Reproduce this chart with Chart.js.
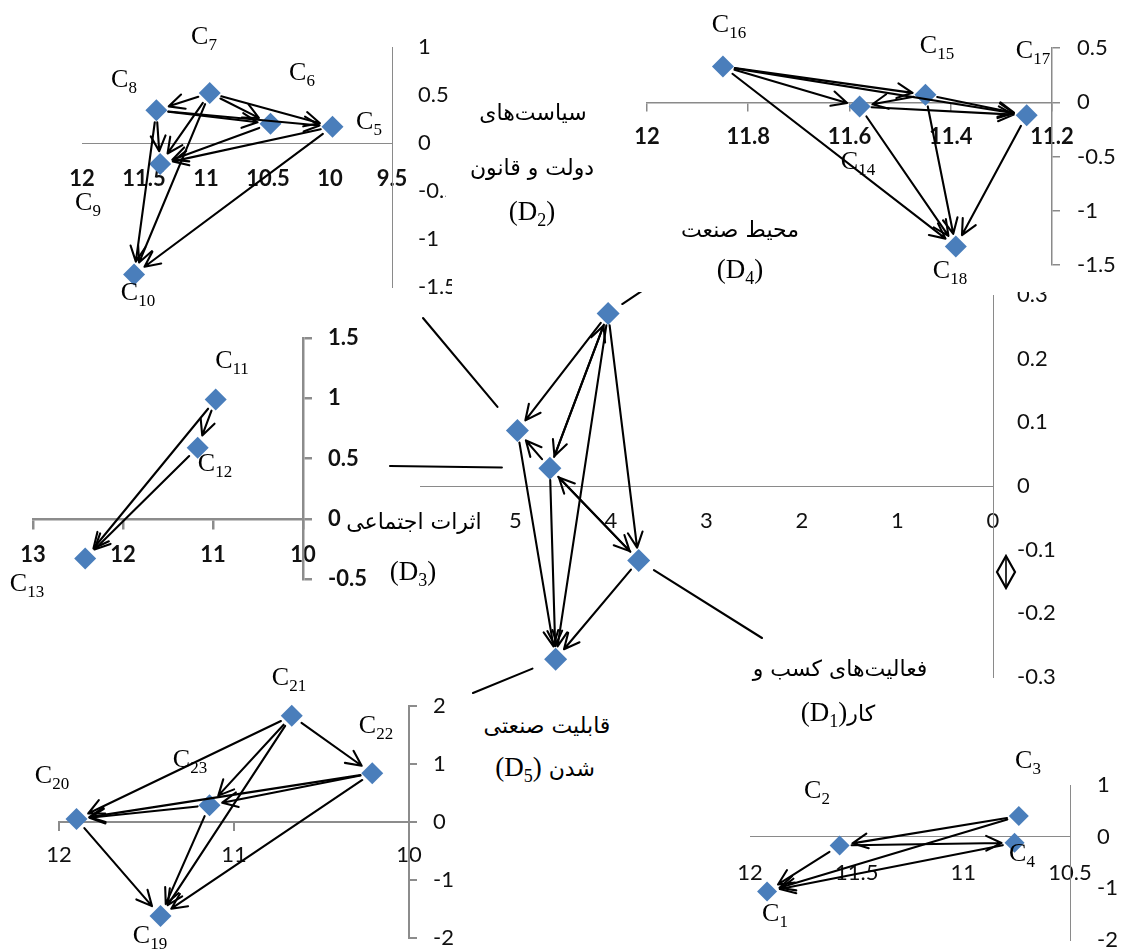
<!DOCTYPE html>
<html><head><meta charset="utf-8">
<script src="https://cdn.jsdelivr.net/npm/chart.js@4.4.1/dist/chart.umd.min.js"></script>
<style>
html,body{margin:0;padding:0;background:#fff;}
body{width:1125px;height:950px;position:relative;overflow:hidden;}
.cv{position:absolute;}
.lbl{position:absolute;transform:translate(-50%,-50%);white-space:nowrap;font-family:"Liberation Serif",serif;font-size:26px;color:#000;line-height:1;z-index:20;}
.lbl .s{font-size:17px;position:relative;top:6px;}
.fa{position:absolute;transform:translate(-50%,-50%);white-space:nowrap;font-family:"DejaVu Sans",sans-serif;font-size:22px;color:#000;line-height:1;z-index:20;}
.fa .lat{font-family:"Liberation Serif",serif;font-size:27px;unicode-bidi:isolate;direction:ltr;}
.fa .s{font-size:18px;position:relative;top:6px;}
.box{position:absolute;background:#fff;z-index:15;}
</style></head><body>
<script>
// ---------------- DATA ----------------
// Central chart: dimensions D1..D5
const cNames = ['D1','D2','D3','D4','D5'];
const cX = [3.71, 4.98, 4.64, 4.03, 4.58];
const cY = [-0.117, 0.087, 0.028, 0.271, -0.272];
const cEdges = [['D4','D2'],['D4','D3'],['D3','D4'],['D4','D5'],['D4','D1'],['D2','D5'],['D3','D2'],['D3','D5'],['D3','D1'],['D1','D3'],['D1','D5']];
const cXTicks = [5, 4, 3, 2, 1, 0];
const cYTicks = [0.3, 0.2, 0.1, 0, -0.1, -0.2, -0.3];

// D2 (top-left): C5..C10
const d2Names = ['C5','C6','C7','C8','C9','C10'];
const d2X = [9.98, 10.48, 10.97, 11.40, 11.37, 11.58];
const d2Y = [0.17, 0.20, 0.52, 0.34, -0.22, -1.37];
const d2Edges = [['C7','C8'],['C7','C5'],['C7','C6'],['C8','C6'],['C8','C5'],['C8','C9'],['C8','C10'],['C7','C9'],['C7','C10'],['C6','C9'],['C5','C9'],['C5','C10']];
const d2XTicks = [12, 11.5, 11, 10.5, 10, 9.5];
const d2YTicks = [1, 0.5, 0, -0.5, -1, -1.5];

// D4 (top-right): C14..C18
const d4Names = ['C14','C15','C16','C17','C18'];
const d4X = [11.58, 11.45, 11.85, 11.25, 11.39];
const d4Y = [-0.04, 0.07, 0.33, -0.12, -1.33];
const d4Edges = [['C16','C15'],['C16','C14'],['C16','C17'],['C16','C18'],['C15','C14'],['C15','C17'],['C15','C18'],['C14','C18'],['C14','C17'],['C17','C18']];
const d4XTicks = [12, 11.8, 11.6, 11.4, 11.2];
const d4YTicks = [0.5, 0, -0.5, -1, -1.5];

// D3 (middle-left): C11..C13
const d3Names = ['C11','C12','C13'];
const d3X = [10.97, 11.17, 12.42];
const d3Y = [0.99, 0.59, -0.33];
const d3Edges = [['C11','C12'],['C11','C13'],['C12','C13']];
const d3XTicks = [13, 12, 11, 10];
const d3YTicks = [1.5, 1, 0.5, 0, -0.5];

// D5 (bottom-left): C19..C23
const d5Names = ['C19','C20','C21','C22','C23'];
const d5X = [11.42, 11.90, 10.67, 10.21, 11.14];
const d5Y = [-1.62, 0.05, 1.83, 0.84, 0.29];
const d5Edges = [['C21','C20'],['C21','C22'],['C21','C23'],['C21','C19'],['C22','C23'],['C22','C20'],['C22','C19'],['C23','C20'],['C23','C19'],['C20','C19']];
const d5XTicks = [12, 11, 10];
const d5YTicks = [2, 1, 0, -1, -2];

// D1 (bottom-right): C1..C4
const d1Names = ['C1','C2','C3','C4'];
const d1X = [11.92, 11.58, 10.74, 10.76];
const d1Y = [-1.06, -0.17, 0.40, -0.12];
const d1Edges = [['C3','C2'],['C3','C1'],['C2','C4'],['C2','C1'],['C4','C1']];
const d1XTicks = [12, 11.5, 11, 10.5];
const d1YTicks = [1, 0, -1, -2];

// ---------------- RENDER ----------------
function makeChart(s) {
  const cv = document.createElement('canvas');
  cv.width = s.W; cv.height = s.H;
  cv.className = 'cv';
  Object.assign(cv.style, {left: s.L + 'px', top: s.T + 'px', width: s.W + 'px', height: s.H + 'px', zIndex: s.z || 1});
  if (s.bg) cv.style.background = s.bg;
  document.body.appendChild(cv);

  const plug = {
    id: 'arrows_' + s.id,
    afterDatasetsDraw(chart) {
      const ctx = chart.ctx, xs = chart.scales.x, ys = chart.scales.y;
      const pos = {};
      s.names.forEach((n, i) => pos[n] = [xs.getPixelForValue(s.xs[i]), ys.getPixelForValue(s.ys[i])]);
      ctx.save();
      ctx.strokeStyle = '#000'; ctx.lineWidth = 2.1; ctx.lineCap = 'round'; ctx.lineJoin = 'round';
      const g0 = 12, g1 = 13, hl = 17, ha = 0.45;
      s.edges.forEach(([a, b]) => {
        const [x1, y1] = pos[a], [x2, y2] = pos[b];
        const dx = x2 - x1, dy = y2 - y1, L = Math.hypot(dx, dy), ux = dx / L, uy = dy / L;
        const sx = x1 + ux * g0, sy = y1 + uy * g0, ex = x2 - ux * g1, ey = y2 - uy * g1;
        ctx.beginPath(); ctx.moveTo(sx, sy); ctx.lineTo(ex, ey);
        const ang = Math.atan2(uy, ux);
        ctx.moveTo(ex - hl * Math.cos(ang - ha), ey - hl * Math.sin(ang - ha));
        ctx.lineTo(ex, ey);
        ctx.lineTo(ex - hl * Math.cos(ang + ha), ey - hl * Math.sin(ang + ha));
        ctx.stroke();
      });
      (s.leaders || []).forEach(([n, ax, ay, gap]) => {
        const [px, py] = pos[n];
        const tx = ax - s.L, ty = ay - s.T;
        const dx = tx - px, dy = ty - py, L = Math.hypot(dx, dy);
        ctx.beginPath();
        ctx.moveTo(px + dx / L * gap, py + dy / L * gap);
        ctx.lineTo(tx, ty);
        ctx.stroke();
      });
      ctx.restore();
    }
  };

  const axisCommon = (ticksArr, tl, pad, weight) => ({
    type: 'linear',
    afterBuildTicks: sc => { sc.ticks = ticksArr.map(v => ({value: v})); },
    grid: {display: true, drawOnChartArea: false, drawTicks: tl > 0, tickLength: tl, color: s.axisColor, lineWidth: s.axisW},
    border: {display: true, color: s.axisColor, width: s.axisW},
    ticks: {padding: pad, color: '#111', autoSkip: false, maxRotation: 0, minRotation: 0,
      font: {family: 'Lato', size: 22, weight: weight},
      callback: v => String(v)}
  });

  const xAxis = Object.assign(axisCommon(s.xTicks, s.xtl, s.xpad, s.xw), {
    reverse: true, min: s.xmin, max: s.xmax, position: {y: 0},
    afterFit: sc => { sc.paddingLeft = 0; sc.paddingRight = 0; }
  });
  const yAxis = Object.assign(axisCommon(s.yTicks, s.ytl, s.ypad, s.yw_), {
    min: s.ymin, max: s.ymax, position: 'right',
    afterFit: sc => { sc.width = s.yw; sc.paddingTop = 0; sc.paddingBottom = 0; }
  });

  new Chart(cv, {
    type: 'scatter',
    data: {datasets: [{
      data: s.xs.map((x, i) => ({x: x, y: s.ys[i]})),
      pointStyle: 'rectRot', pointRadius: s.r, pointHoverRadius: s.r,
      backgroundColor: '#4a7ebb', borderColor: '#4a7ebb', borderWidth: 0, clip: false
    }]},
    options: {
      responsive: false, animation: false, devicePixelRatio: 1, events: [],
      layout: {padding: s.pad},
      plugins: {legend: {display: false}, tooltip: {enabled: false}},
      scales: {x: xAxis, y: yAxis}
    },
    plugins: [plug]
  });
}

// central chart
makeChart({id: 'c', L: 380, T: 270, W: 683, H: 432, pad: {left: 40, top: 25, right: 0, bottom: 25}, yw: 70,
  xmin: 0, xmax: 6, ymin: -0.3, ymax: 0.3, xTicks: cXTicks, yTicks: cYTicks,
  xtl: 0, xpad: 22, ytl: 0, ypad: 24, xw: 'normal', yw_: 'normal', axisColor: '#8a8a8a', axisW: 1, r: 11.5,
  names: cNames, xs: cX, ys: cY, edges: cEdges,
  leaders: [['D2', 423, 318, 31], ['D3', 390, 466, 48], ['D1', 762, 638, 18], ['D5', 473, 693, 25], ['D4', 700, 252, 17]]});
// D2
makeChart({id: 'd2', L: 40, T: 20, W: 422, H: 287, pad: {left: 42, top: 27, right: 10, bottom: 20}, yw: 60,
  xmin: 9.5, xmax: 12, ymin: -1.5, ymax: 1, xTicks: d2XTicks, yTicks: d2YTicks,
  xtl: 0, xpad: 23, ytl: 0, ypad: 26, xw: 'bold', yw_: 'normal', axisColor: '#8a8a8a', axisW: 1, r: 11,
  names: d2Names, xs: d2X, ys: d2Y, edges: d2Edges});
// D3
makeChart({id: 'd3', L: 0, T: 315, W: 370, H: 284, pad: {left: 33, top: 23, right: 0, bottom: 20}, yw: 67,
  xmin: 10, xmax: 13, ymin: -0.5, ymax: 1.5, xTicks: d3XTicks, yTicks: d3YTicks,
  xtl: 9, xpad: 14, ytl: 9, ypad: 16, xw: 'bold', yw_: 'bold', axisColor: '#8c8c8c', axisW: 2.5, r: 11,
  names: d3Names, xs: d3X, ys: d3Y, edges: d3Edges});
// D5
makeChart({id: 'd5', L: 15, T: 685, W: 449, H: 265, pad: {left: 44, top: 21, right: 0, bottom: 12}, yw: 55,
  xmin: 10, xmax: 12, ymin: -2, ymax: 2, xTicks: d5XTicks, yTicks: d5YTicks,
  xtl: 8, xpad: 12, ytl: 8, ypad: 16, xw: 'normal', yw_: 'normal', axisColor: '#8c8c8c', axisW: 2, r: 11,
  names: d5Names, xs: d5X, ys: d5Y, edges: d5Edges});
// D1
makeChart({id: 'd1', L: 715, T: 760, W: 410, H: 190, pad: {left: 35, top: 25, right: 0, bottom: 10}, yw: 55,
  xmin: 10.5, xmax: 12, ymin: -2, ymax: 1, xTicks: d1XTicks, yTicks: d1YTicks,
  xtl: 0, xpad: 23, ytl: 0, ypad: 27, xw: 'normal', yw_: 'normal', axisColor: '#8a8a8a', axisW: 1, r: 10,
  names: d1Names, xs: d1X, ys: d1Y, edges: d1Edges});
// D4 (white panel on top)
makeChart({id: 'd4', L: 632, T: 0, W: 493, H: 292, pad: {left: 15, top: 48, right: 0, bottom: 27}, yw: 73, bg: '#fff', z: 10,
  xmin: 11.2, xmax: 12, ymin: -1.5, ymax: 0.5, xTicks: d4XTicks, yTicks: d4YTicks,
  xtl: 8, xpad: 13, ytl: 8, ypad: 17, xw: 'bold', yw_: 'normal', axisColor: '#8a8a8a', axisW: 1.5, r: 11,
  names: d4Names, xs: d4X, ys: d4Y, edges: d4Edges});

// white text panel behind the D2 title
const box = document.createElement('div');
box.className = 'box';
Object.assign(box.style, {left: '446px', top: '105px', width: '185px', height: '140px'});
document.body.appendChild(box);

// point labels [number, x, y]
const pointLabels = [
  ['5', 369, 121], ['6', 302, 72], ['7', 204, 36], ['8', 124, 79], ['9', 88, 202], ['10', 138, 292],
  ['11', 232, 360], ['12', 215, 463], ['13', 27, 583],
  ['14', 858, 161], ['15', 937, 45], ['16', 729, 24], ['17', 1033, 50], ['18', 950, 270],
  ['19', 150, 935], ['20', 52, 775], ['21', 289, 677], ['22', 376, 725], ['23', 190, 759],
  ['1', 775, 913], ['2', 817, 790], ['3', 1028, 760], ['4', 1022, 853]
];
pointLabels.forEach(([n, x, y]) => {
  const d = document.createElement('div');
  d.className = 'lbl';
  d.innerHTML = 'C<span class="s">' + n + '</span>';
  Object.assign(d.style, {left: x + 'px', top: y + 'px'});
  document.body.appendChild(d);
});

// dimension titles [text, subscript-id or '', x, y]
const titleLines = [
  ['سیاست\u200cهای', '', 533, 113],
  ['دولت و قانون', '', 532, 168],
  ['', '2', 532, 211],
  ['محیط صنعت', '', 740, 230],
  ['', '4', 740, 269],
  ['اثرات اجتماعی', '', 414, 522],
  ['', '3', 413, 571],
  ['فعالیت\u200cهای کسب و', '', 840, 669],
  ['کار', '1', 838, 712],
  ['قابلیت صنعتی', '', 547, 726],
  ['شدن ', '5', 545, 767]
];
titleLines.forEach(([t, sub, x, y]) => {
  const d = document.createElement('div');
  d.className = 'fa';
  d.dir = 'rtl';
  let html = t;
  if (sub) html += '<span class="lat">(D<span class="s">' + sub + '</span>)</span>';
  d.innerHTML = html;
  Object.assign(d.style, {left: x + 'px', top: y + 'px'});
  document.body.appendChild(d);
});

// hollow diamond symbol (with its middle stroke) near the central y axis
const NS = 'http://www.w3.org/2000/svg';
const svg = document.createElementNS(NS, 'svg');
svg.setAttribute('width', '24'); svg.setAttribute('height', '36');
Object.assign(svg.style, {position: 'absolute', left: '994px', top: '554px', zIndex: 20});
const poly = document.createElementNS(NS, 'polygon');
poly.setAttribute('points', '12,2 21,18 12,34 3,18');
poly.setAttribute('fill', 'none'); poly.setAttribute('stroke', '#000'); poly.setAttribute('stroke-width', '2.2');
const ln = document.createElementNS(NS, 'line');
ln.setAttribute('x1', '12'); ln.setAttribute('y1', '4'); ln.setAttribute('x2', '12'); ln.setAttribute('y2', '32');
ln.setAttribute('stroke', '#000'); ln.setAttribute('stroke-width', '1.6');
svg.appendChild(poly); svg.appendChild(ln);
document.body.appendChild(svg);
</script>
</body></html>
